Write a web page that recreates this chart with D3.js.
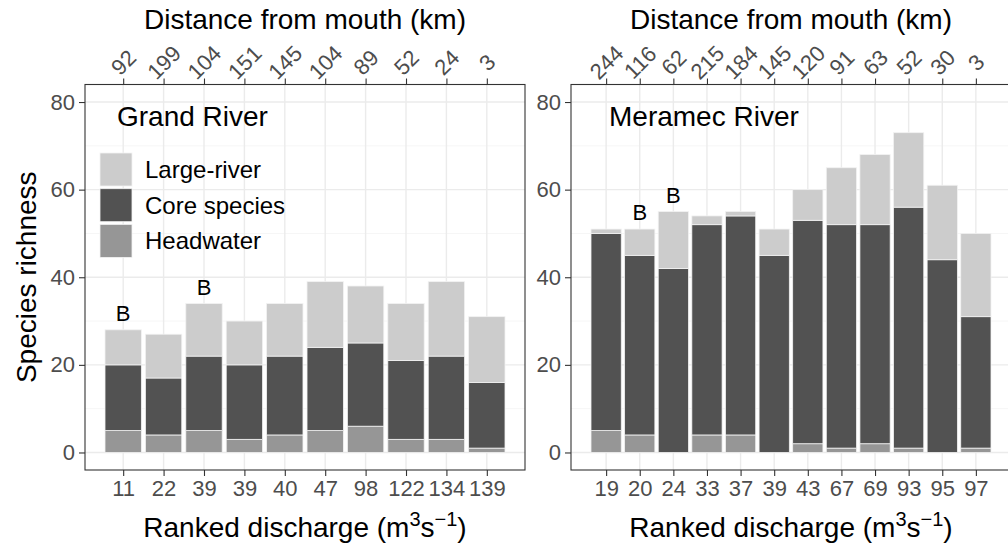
<!DOCTYPE html>
<html>
<head>
<meta charset="utf-8">
<script src="https://cdn.jsdelivr.net/npm/d3@7"></script>
<style>
  html, body { margin: 0; padding: 0; background: #ffffff; }
  svg { display: block; font-family: "Liberation Sans", Arial, sans-serif; }
</style>
</head>
<body>
<svg id="chart" width="1008" height="550"></svg>
<script>
// ---- Grand River ----
const grandDischarge = ["11", "22", "39", "39", "40", "47", "98", "122", "134", "139"];
const grandDistance  = ["92", "199", "104", "151", "145", "104", "89", "52", "24", "3"];
const grandHeadwater = [5, 4, 5, 3, 4, 5, 6, 3, 3, 1];
const grandCore      = [15, 13, 17, 17, 18, 19, 19, 18, 19, 15];
const grandLarge     = [8, 10, 12, 10, 12, 15, 13, 13, 17, 15];
const grandLetters   = ["B", "", "B", "", "", "", "", "", "", ""];

// ---- Meramec River ----
const meramecDischarge = ["19", "20", "24", "33", "37", "39", "43", "67", "69", "93", "95", "97"];
const meramecDistance  = ["244", "116", "62", "215", "184", "145", "120", "91", "63", "52", "30", "3"];
const meramecHeadwater = [5, 4, 0, 4, 4, 0, 2, 1, 2, 1, 0, 1];
const meramecCore      = [45, 41, 42, 48, 50, 45, 51, 51, 50, 55, 44, 30];
const meramecLarge     = [1, 6, 13, 2, 1, 6, 7, 13, 16, 17, 17, 19];
const meramecLetters   = ["", "B", "B", "", "", "", "", "", "", "", "", ""];

const yTicks = [0, 20, 40, 60, 80];
const yMinor = [10, 30, 50, 70];

const groupKeys   = ["headwater", "core", "large"];
const groupColors = { large: "#cccccc", core: "#525252", headwater: "#969696" };
const legendItems = [
  { key: "large", label: "Large-river" },
  { key: "core", label: "Core species" },
  { key: "headwater", label: "Headwater" }
];

const svg = d3.select("#chart");

const panelTop = 84.5, panelBottom = 470;
const y = d3.scaleLinear().domain([-4, 84]).range([panelBottom, panelTop]);

function drawPanel(opts) {
  const n = opts.discharge.length;
  const barWidth = 0.9;
  const span = n - 1 + barWidth;
  const pad = span * 0.05;
  const x = d3.scaleLinear()
    .domain([1 - barWidth / 2 - pad, n + barWidth / 2 + pad])
    .range([opts.left, opts.left + 440]);
  const xr = x.range();

  const rows = opts.discharge.map((d, i) => ({
    idx: i + 1,
    headwater: opts.headwater[i],
    core: opts.core[i],
    large: opts.large[i],
    letter: opts.letters[i]
  }));
  const stacked = d3.stack().keys(groupKeys)(rows);

  const g = svg.append("g");
  const clipId = "clip-" + opts.id;
  svg.append("clipPath").attr("id", clipId)
    .append("rect").attr("x", xr[0]).attr("y", panelTop)
    .attr("width", xr[1] - xr[0]).attr("height", panelBottom - panelTop);

  const plot = g.append("g").attr("clip-path", `url(#${clipId})`);

  // grid
  plot.selectAll(".minor").data(yMinor).join("line")
    .attr("x1", xr[0]).attr("x2", xr[1])
    .attr("y1", d => y(d)).attr("y2", d => y(d))
    .attr("stroke", "#f4f4f4").attr("stroke-width", 0.8);
  plot.selectAll(".major").data(yTicks).join("line")
    .attr("x1", xr[0]).attr("x2", xr[1])
    .attr("y1", d => y(d)).attr("y2", d => y(d))
    .attr("stroke", "#ebebeb").attr("stroke-width", 1.4);
  plot.selectAll(".vmajor").data(rows).join("line")
    .attr("x1", d => x(d.idx)).attr("x2", d => x(d.idx))
    .attr("y1", panelTop).attr("y2", panelBottom)
    .attr("stroke", "#ebebeb").attr("stroke-width", 1.4);

  // stacked bars
  plot.selectAll(".layer").data(stacked).join("g")
    .attr("fill", d => groupColors[d.key])
    .selectAll("rect").data(d => d.filter(s => s[1] - s[0] > 0)).join("rect")
    .attr("x", d => x(d.data.idx - barWidth / 2))
    .attr("width", d => x(d.data.idx + barWidth / 2) - x(d.data.idx - barWidth / 2))
    .attr("y", d => y(d[1]))
    .attr("height", d => y(d[0]) - y(d[1]))
    .attr("stroke", "#f2f2f2").attr("stroke-width", 0.8);

  // significance letters
  plot.selectAll(".letter").data(rows.filter(r => r.letter)).join("text")
    .attr("x", d => x(d.idx))
    .attr("y", d => y(d.headwater + d.core + d.large + 2))
    .attr("text-anchor", "middle")
    .attr("font-size", 22).attr("fill", "#000")
    .text(d => d.letter);

  // panel title
  g.append("text")
    .attr("x", xr[0] + opts.titleOffset).attr("y", 126)
    .attr("font-size", 28).attr("fill", "#000")
    .text(opts.title);

  // border
  g.append("rect")
    .attr("x", xr[0]).attr("y", panelTop)
    .attr("width", xr[1] - xr[0]).attr("height", panelBottom - panelTop)
    .attr("fill", "none").attr("stroke", "#333333").attr("stroke-width", 1.1);

  // bottom axis
  const bottom = g.append("g").attr("transform", `translate(0,${panelBottom})`)
    .call(d3.axisBottom(x).tickValues(rows.map(r => r.idx))
      .tickFormat((d, i) => opts.discharge[i]).tickSize(6).tickPadding(4));
  bottom.select(".domain").remove();
  bottom.selectAll("line").attr("stroke", "#333333").attr("stroke-width", 1.1);
  bottom.selectAll("text").attr("font-size", 22).attr("fill", "#4d4d4d")
    .attr("font-family", "Liberation Sans, Arial, sans-serif");

  // top axis
  const top = g.append("g").attr("transform", `translate(0,${panelTop})`)
    .call(d3.axisTop(x).tickValues(rows.map(r => r.idx))
      .tickFormat((d, i) => opts.distance[i]).tickSize(6));
  top.select(".domain").remove();
  top.selectAll("line").attr("stroke", "#333333").attr("stroke-width", 1.1);
  top.selectAll("text")
    .attr("font-size", 22).attr("fill", "#4d4d4d")
    .attr("font-family", "Liberation Sans, Arial, sans-serif")
    .attr("text-anchor", "middle")
    .attr("dy", null)
    .attr("dominant-baseline", "central")
    .attr("x", 0).attr("y", -22)
    .attr("transform", "rotate(-45,0,-22)");

  // left axis
  const left = g.append("g").attr("transform", `translate(${xr[0]},0)`)
    .call(d3.axisLeft(y).tickValues(yTicks).tickSize(6).tickPadding(4));
  left.select(".domain").remove();
  left.selectAll("line").attr("stroke", "#333333").attr("stroke-width", 1.1);
  left.selectAll("text").attr("font-size", 22).attr("fill", "#4d4d4d")
    .attr("font-family", "Liberation Sans, Arial, sans-serif");

  // axis titles
  const cx = (xr[0] + xr[1]) / 2;
  const bt = g.append("text").attr("x", cx).attr("y", 537)
    .attr("text-anchor", "middle").attr("font-size", 28).attr("fill", "#000");
  bt.append("tspan").text("Ranked discharge (m");
  bt.append("tspan").attr("font-size", 20).attr("dy", -11).text("3");
  bt.append("tspan").attr("dy", 11).text("s");
  bt.append("tspan").attr("font-size", 20).attr("dy", -11).text("\u22121");
  bt.append("tspan").attr("dy", 11).text(")");

  g.append("text").attr("x", cx).attr("y", 29)
    .attr("text-anchor", "middle").attr("font-size", 28).attr("fill", "#000")
    .text("Distance from mouth (km)");

  return x;
}

drawPanel({
  id: "grand", left: 85, title: "Grand River", titleOffset: 32,
  discharge: grandDischarge, distance: grandDistance,
  headwater: grandHeadwater, core: grandCore, large: grandLarge, letters: grandLetters
});
drawPanel({
  id: "meramec", left: 571, title: "Meramec River", titleOffset: 38,
  discharge: meramecDischarge, distance: meramecDistance,
  headwater: meramecHeadwater, core: meramecCore, large: meramecLarge, letters: meramecLetters
});

// y axis title
svg.append("text")
  .attr("transform", `translate(36,${(panelTop + panelBottom) / 2}) rotate(-90)`)
  .attr("text-anchor", "middle").attr("font-size", 28).attr("fill", "#000")
  .text("Species richness");

// legend (Grand River panel)
const legend = svg.append("g").attr("transform", "translate(100,153)");
legend.selectAll("rect").data(legendItems).join("rect")
  .attr("x", 0).attr("y", (d, i) => i * 35.7)
  .attr("width", 32).attr("height", 33)
  .attr("fill", d => groupColors[d.key])
  .attr("stroke", "#f2f2f2").attr("stroke-width", 0.8);
legend.selectAll("text").data(legendItems).join("text")
  .attr("x", 45).attr("y", (d, i) => i * 35.7 + 16.5)
  .attr("dominant-baseline", "central")
  .attr("font-size", 24).attr("fill", "#000")
  .text(d => d.label);
</script>
</body>
</html>
